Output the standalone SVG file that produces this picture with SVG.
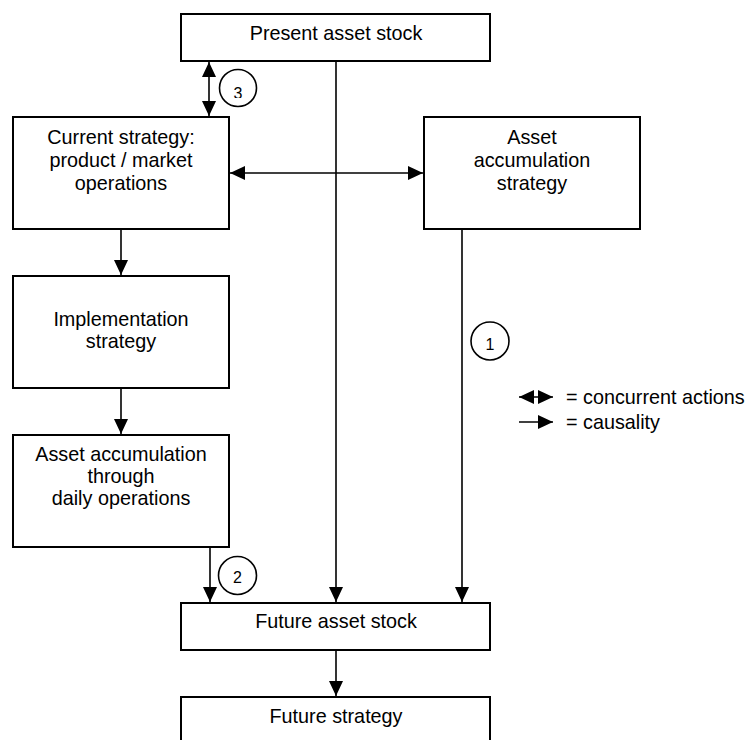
<svg xmlns="http://www.w3.org/2000/svg" width="748" height="740" viewBox="0 0 748 740">
<style>
.box{fill:#fff;stroke:#000;stroke-width:2}
.ln{fill:none;stroke:#000;stroke-width:1.6}
.t{font-family:"Liberation Sans",Arial,sans-serif;font-size:19.8px;fill:#000;text-anchor:middle}
.lg{font-family:"Liberation Sans",Arial,sans-serif;font-size:19.8px;fill:#000}
.c{fill:#fff;stroke:#000;stroke-width:1.6}
.n{font-family:"Liberation Sans",Arial,sans-serif;font-size:16px;fill:#000;text-anchor:middle}
</style>
<defs>
<marker id="ah" markerUnits="userSpaceOnUse" markerWidth="15" markerHeight="14" refX="15" refY="7" orient="auto-start-reverse">
<path d="M0,0 L15,7 L0,14 z" fill="#000"/>
</marker>
<clipPath id="cl3"><rect x="200" y="60" width="80" height="38"/></clipPath>
<clipPath id="cl2"><rect x="200" y="550" width="80" height="33"/></clipPath>
</defs>
<rect width="748" height="740" fill="#fff"/>
<g id="connectors">
<line class="ln" x1="209" y1="62" x2="209" y2="116" marker-start="url(#ah)" marker-end="url(#ah)"/>
<line class="ln" x1="230" y1="173" x2="423" y2="173" marker-start="url(#ah)" marker-end="url(#ah)"/>
<line class="ln" x1="336" y1="61" x2="336" y2="602" marker-end="url(#ah)"/>
<line class="ln" x1="462" y1="229" x2="462" y2="602" marker-end="url(#ah)"/>
<line class="ln" x1="121" y1="229" x2="121" y2="275" marker-end="url(#ah)"/>
<line class="ln" x1="121" y1="388" x2="121" y2="434" marker-end="url(#ah)"/>
<line class="ln" x1="210" y1="547" x2="210" y2="602" marker-end="url(#ah)"/>
<line class="ln" x1="336" y1="650" x2="336" y2="696" marker-end="url(#ah)"/>
</g>
<g id="present"><rect class="box" x="181" y="14" width="309" height="47"/><text class="t" x="336" y="40">Present asset stock</text></g>
<g id="current"><rect class="box" x="13" y="117" width="216" height="112"/><text class="t" x="121" y="144">Current strategy:</text><text class="t" x="121" y="167">product / market</text><text class="t" x="121" y="190">operations</text></g>
<g id="accstrategy"><rect class="box" x="424" y="117" width="216" height="112"/><text class="t" x="532" y="144">Asset</text><text class="t" x="532" y="167">accumulation</text><text class="t" x="532" y="190">strategy</text></g>
<g id="implementation"><rect class="box" x="13" y="276" width="216" height="112"/><text class="t" x="121" y="326">Implementation</text><text class="t" x="121" y="348">strategy</text></g>
<g id="daily"><rect class="box" x="13" y="435" width="216" height="112"/><text class="t" x="121" y="461">Asset accumulation</text><text class="t" x="121" y="483">through</text><text class="t" x="121" y="505">daily operations</text></g>
<g id="future"><rect class="box" x="181" y="603" width="309" height="47"/><text class="t" x="336" y="628">Future asset stock</text></g>
<g id="futurestrategy"><rect class="box" x="181" y="697" width="309" height="50"/><text class="t" x="336" y="723">Future strategy</text></g>
<g id="label3"><circle class="c" cx="238" cy="88" r="18.5"/><text class="n" x="238" y="99" clip-path="url(#cl3)">3</text></g>
<g id="label1"><circle class="c" cx="490" cy="341" r="19"/><text class="n" x="490" y="350">1</text></g>
<g id="label2"><circle class="c" cx="237.5" cy="575.5" r="19"/><text class="n" x="237.5" y="583" clip-path="url(#cl2)">2</text></g>
<g id="legend">
<line class="ln" x1="519" y1="397" x2="553" y2="397" marker-start="url(#ah)" marker-end="url(#ah)"/>
<text class="lg" x="566" y="404">= concurrent actions</text>
<line class="ln" x1="519" y1="422" x2="553" y2="422" marker-end="url(#ah)"/>
<text class="lg" x="566" y="429">= causality</text>
</g>
</svg>
